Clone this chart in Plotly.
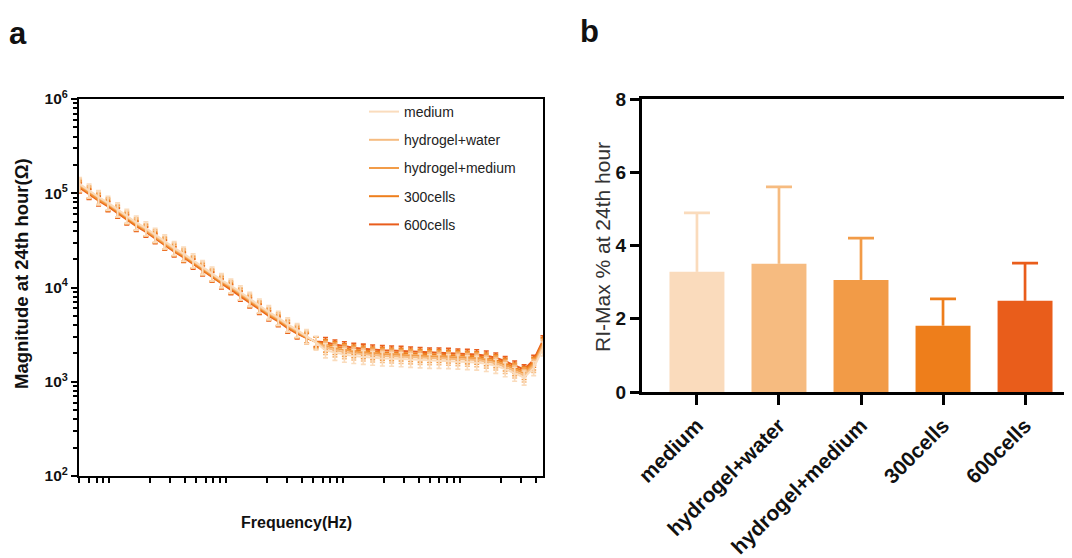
import plotly.graph_objects as go

# ---------------- panel a data ----------------
freq_hz = [5.01, 6.04, 7.28, 8.77, 10.6, 12.7, 15.3, 18.5, 22.2, 26.8,
           32.3, 38.9, 46.9, 56.5, 68.1, 82.0, 98.7, 119, 143, 173,
           208, 251, 302, 364, 438, 528, 636, 766, 923, 1110,
           1340, 1610, 1950, 2340, 2820, 3400, 4100, 4940, 5950, 7170,
           8630, 10400, 12500, 15100, 18200, 21900, 26400, 31800, 38400, 46100]

series_names = ["medium", "hydrogel+water", "hydrogel+medium", "300cells", "600cells"]
series_colors = ["#FADCBD", "#F6BC81", "#F29C48", "#EE7F1D", "#E95D1C"]

mag_medium = [125800, 107100, 91200, 79500, 67600, 57600, 49000, 42600, 36300, 30900,
              26300, 22900, 19500, 16500, 14100, 12000, 10500, 8910, 7580, 6460,
              5500, 4780, 4070, 3550, 3060, 2600, 2160, 2030, 1940, 1880,
              1840, 1800, 1770, 1760, 1740, 1710, 1690, 1670, 1670, 1660,
              1640, 1620, 1600, 1550, 1480, 1360, 1220, 1110, 1400, 2260]
mag_hydrogel_water = [123000, 104700, 89100, 77600, 66100, 56300, 47900, 41600, 35500, 30200,
                      25700, 22400, 19000, 16200, 13800, 11800, 10230, 8710, 7410, 6310,
                      5370, 4680, 3980, 3470, 3000, 2610, 2290, 2160, 2060, 2000,
                      1950, 1905, 1880, 1860, 1840, 1820, 1800, 1780, 1780, 1760,
                      1740, 1720, 1700, 1640, 1570, 1440, 1290, 1170, 1480, 2400]
mag_hydrogel_medium = [120200, 102300, 87100, 75900, 64600, 55000, 46800, 40700, 34700, 29500,
                       25100, 21900, 18600, 15800, 13500, 11500, 10000, 8510, 7240, 6170,
                       5250, 4570, 3890, 3390, 2950, 2630, 2400, 2260, 2160, 2090,
                       2040, 1995, 1970, 1950, 1930, 1905, 1880, 1860, 1860, 1840,
                       1820, 1800, 1780, 1720, 1640, 1510, 1350, 1230, 1550, 2510]
mag_300cells = [117400, 99900, 85100, 74200, 63100, 53700, 45700, 39800, 33900, 28800,
                24500, 21400, 18200, 15400, 13200, 11200, 9770, 8310, 7070, 6030,
                5130, 4460, 3800, 3310, 2930, 2650, 2510, 2370, 2260, 2190,
                2140, 2090, 2060, 2040, 2020, 1990, 1970, 1950, 1950, 1930,
                1910, 1880, 1860, 1800, 1720, 1580, 1410, 1290, 1620, 2630]
mag_600cells = [114800, 97700, 83200, 72500, 61700, 52500, 44700, 38900, 33100, 28200,
                24000, 20900, 17800, 15100, 12900, 11000, 9550, 8130, 6910, 5890,
                5010, 4360, 3710, 3240, 2900, 2680, 2630, 2480, 2370, 2290,
                2240, 2190, 2160, 2140, 2120, 2090, 2060, 2040, 2040, 2020,
                1990, 1970, 1950, 1890, 1800, 1650, 1480, 1350, 1700, 2750]
mag_series = [mag_medium, mag_hydrogel_water, mag_hydrogel_medium, mag_300cells, mag_600cells]
mag_err_pct = [17, 15, 14, 12, 12]

y_tick_vals_a = [1e2, 1e3, 1e4, 1e5, 1e6]
y_tick_text_a = ["<b>10<sup>2</sup></b>", "<b>10<sup>3</sup></b>", "<b>10<sup>4</sup></b>",
                 "<b>10<sup>5</sup></b>", "<b>10<sup>6</sup></b>"]

# ---------------- panel b data ----------------
bar_categories = ["medium", "hydrogel+water", "hydrogel+medium", "300cells", "600cells"]
bar_means = [3.28, 3.50, 3.06, 1.81, 2.49]
bar_sd = [1.61, 2.10, 1.14, 0.73, 1.03]
bar_colors = ["#FADBBC", "#F6BB80", "#F29B47", "#EE7E1B", "#E95D1B"]

FONT = "Liberation Sans, Arial, Helvetica, sans-serif"
W, H, OFF = 1072, 558, 8  # page body margin offset compensation


def px(x):
    return (x - OFF) / W


def py(y):
    return 1 - (y - OFF) / H


fig = go.Figure()

# draw darkest first so the light series sit on top (legend order kept by legendrank)
for i in list(range(len(series_names)))[::-1]:
    name, col, mags, ep = series_names[i], series_colors[i], mag_series[i], mag_err_pct[i]
    fig.add_trace(go.Scatter(
        x=freq_hz, y=mags, mode="lines", name=name, legendgroup=name, legendrank=i + 1,
        line=dict(color=col, width=2),
        error_y=dict(type="percent", value=ep, color=col, thickness=1.6, width=2.5),
        xaxis="x", yaxis="y",
    ))

fig.add_trace(go.Bar(
    x=bar_categories, y=bar_means, marker=dict(color=bar_colors, line=dict(width=0)),
    showlegend=False, xaxis="x2", yaxis="y2",
))
# one-sided (upper) SD bars: stem from mean to mean+SD, cap at the top
for cat, m, s, c in zip(bar_categories, bar_means, bar_sd, bar_colors):
    fig.add_trace(go.Scatter(
        x=[cat, cat], y=[m, m + s], mode="lines", line=dict(color=c, width=2.7),
        showlegend=False, xaxis="x2", yaxis="y2", hoverinfo="skip",
    ))
    fig.add_trace(go.Scatter(
        x=[cat], y=[m + s], mode="markers", marker=dict(size=1, color=c, opacity=0),
        error_y=dict(type="data", array=[0], arrayminus=[0], symmetric=False,
                     color=c, thickness=2.8, width=13),
        showlegend=False, xaxis="x2", yaxis="y2", hoverinfo="skip",
    ))

x_minor_a = [m * 10 ** d for d in range(0, 5) for m in range(2, 10)]
y_minor_a = [m * 10 ** d for d in range(2, 6) for m in range(2, 10)]

fig.update_layout(
    width=W, height=H,
    margin=dict(l=0, r=0, t=0, b=0, autoexpand=False),
    paper_bgcolor="white", plot_bgcolor="white",
    font=dict(family=FONT, color="#111111"),
    bargap=0.33, barmode="overlay",
    xaxis=dict(
        type="log", domain=[px(79), px(543)], range=[0.695, 4.664],
        tickmode="array", tickvals=x_minor_a, showticklabels=False,
        ticks="outside", ticklen=5, tickwidth=1.5, tickcolor="black",
        showline=True, linecolor="black", linewidth=2, mirror=True,
        showgrid=False, zeroline=False, automargin=False,
        anchor="y",
    ),
    yaxis=dict(
        type="log", domain=[py(476), py(99)], range=[2, 6],
        tickmode="array", tickvals=y_tick_vals_a, ticktext=y_tick_text_a,
        tickfont=dict(size=15.5, color="#111"),
        ticks="outside", ticklen=6, tickwidth=1.5, tickcolor="black",
        minor=dict(tickmode="array", tickvals=y_minor_a, ticks="outside", ticklen=4,
                   tickwidth=1.5, tickcolor="black", showgrid=False),
        showline=True, linecolor="black", linewidth=2, mirror=True,
        showgrid=False, zeroline=False, automargin=False,
        anchor="x",
    ),
    xaxis2=dict(
        domain=[px(642), 1.0], range=[-0.67, 4.67], type="category",
        tickangle=-45, tickfont=dict(size=21, color="#111"),
        tickmode="array", tickvals=bar_categories,
        ticktext=["<b>%s</b>" % c for c in bar_categories],
        ticks="outside", ticklen=10, tickwidth=3, tickcolor="black",
        showline=True, linecolor="black", linewidth=3, mirror=True,
        showgrid=False, zeroline=False, automargin=False, anchor="y2",
    ),
    yaxis2=dict(
        domain=[py(392), py(99)], range=[0, 8],
        tickmode="array", tickvals=[0, 2, 4, 6, 8],
        ticktext=["<b>0</b>", "<b>2</b>", "<b>4</b>", "<b>6</b>", "<b>8</b>"],
        tickfont=dict(size=19, color="#111"),
        ticks="outside", ticklen=9, tickwidth=3, tickcolor="black",
        showline=True, linecolor="black", linewidth=3,
        showgrid=False, zeroline=False, automargin=False,
        anchor="x2",
    ),
    legend=dict(
        x=px(364), y=py(96), xanchor="left", yanchor="top",
        bgcolor="rgba(0,0,0,0)", borderwidth=0,
        font=dict(size=14, color="#222"), tracegroupgap=7,
        itemwidth=30,
    ),
    annotations=[
        dict(text="<b>a</b>", x=px(17.5), y=py(33), xref="paper", yref="paper",
             xanchor="center", yanchor="middle", showarrow=False, font=dict(size=31, color="#111")),
        dict(text="<b>b</b>", x=px(589), y=py(31), xref="paper", yref="paper",
             xanchor="center", yanchor="middle", showarrow=False, font=dict(size=31, color="#111")),
        dict(text="<b>Magnitude at 24th hour(\u03a9)</b>", x=px(22), y=py(274),
             xref="paper", yref="paper", xanchor="center", yanchor="middle", textangle=-90,
             showarrow=False, font=dict(size=18.5, color="#111")),
        dict(text="<b>Frequency(Hz)</b>", x=px(296), y=py(522),
             xref="paper", yref="paper", xanchor="center", yanchor="middle",
             showarrow=False, font=dict(size=16, color="#111")),
        dict(text="RI-Max % at 24th hour", x=px(602), y=py(247),
             xref="paper", yref="paper", xanchor="center", yanchor="middle", textangle=-90,
             showarrow=False, font=dict(size=21, color="#333")),
    ],
)

fig.write_html("out.html")
